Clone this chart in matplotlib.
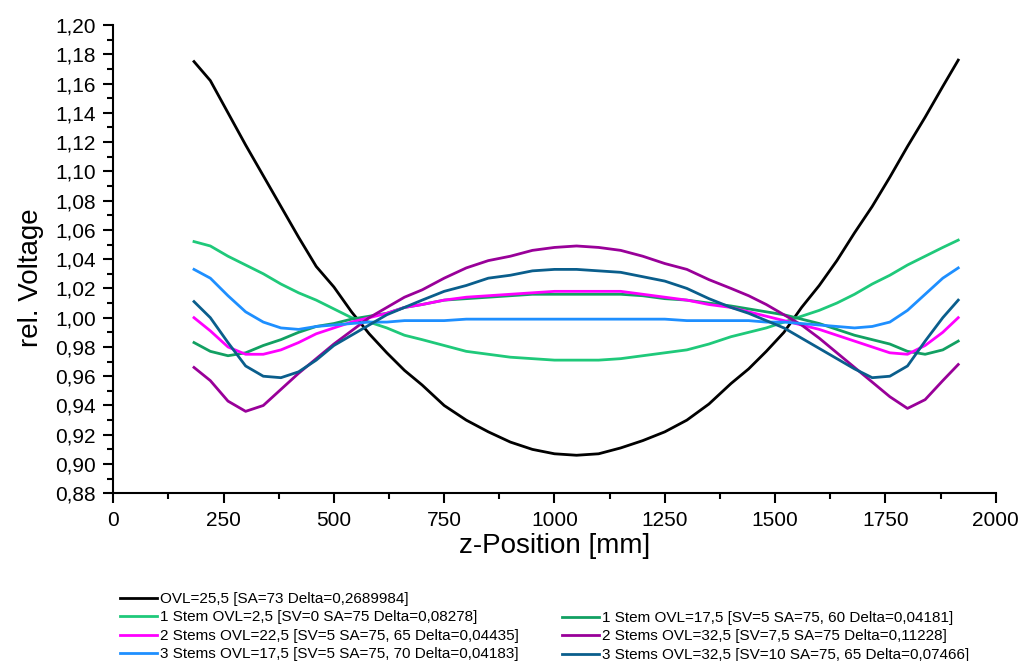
import matplotlib
matplotlib.use('Agg')
import matplotlib.pyplot as plt
from matplotlib.ticker import MultipleLocator, FuncFormatter

plt.rcParams['font.family'] = ['Liberation Sans', 'DejaVu Sans']

# -------- DATA --------------------------------------------------
z = [183, 220, 260, 300, 340, 380, 420, 460, 500, 540, 580, 620, 660, 700,
     750, 800, 850, 900, 950, 1000, 1050, 1100, 1150, 1200, 1250, 1300, 1350,
     1400, 1440, 1480, 1520, 1560, 1600, 1640, 1680, 1720, 1760, 1800, 1840,
     1880, 1915]

ovl_25 = [1.175, 1.162, 1.140, 1.118, 1.097, 1.076, 1.055, 1.035, 1.021, 1.004,
          0.989, 0.976, 0.964, 0.954, 0.940, 0.930, 0.922, 0.915, 0.910, 0.907,
          0.906, 0.907, 0.911, 0.916, 0.922, 0.930, 0.941, 0.955, 0.965, 0.977,
          0.990, 1.007, 1.022, 1.039, 1.058, 1.076, 1.096, 1.117, 1.137, 1.158,
          1.176]

stem1_2 = [1.052, 1.049, 1.042, 1.036, 1.030, 1.023, 1.017, 1.012, 1.006, 1.000,
           0.997, 0.993, 0.988, 0.985, 0.981, 0.977, 0.975, 0.973, 0.972, 0.971,
           0.971, 0.971, 0.972, 0.974, 0.976, 0.978, 0.982, 0.987, 0.990, 0.993,
           0.997, 1.001, 1.005, 1.010, 1.016, 1.023, 1.029, 1.036, 1.042, 1.048,
           1.053]

stem1_17 = [0.983, 0.977, 0.974, 0.976, 0.981, 0.985, 0.990, 0.994, 0.996, 0.999,
            1.001, 1.003, 1.007, 1.009, 1.012, 1.013, 1.014, 1.015, 1.016, 1.016,
            1.016, 1.016, 1.016, 1.015, 1.013, 1.012, 1.010, 1.008, 1.006, 1.004,
            1.002, 0.999, 0.996, 0.992, 0.988, 0.985, 0.982, 0.977, 0.975, 0.978,
            0.984]

stems2_22 = [1.000, 0.991, 0.980, 0.975, 0.975, 0.978, 0.983, 0.989, 0.993, 0.997,
             1.000, 1.003, 1.007, 1.009, 1.012, 1.014, 1.015, 1.016, 1.017, 1.018,
             1.018, 1.018, 1.018, 1.016, 1.014, 1.012, 1.009, 1.007, 1.004, 1.001,
             0.998, 0.995, 0.992, 0.988, 0.984, 0.980, 0.976, 0.975, 0.981, 0.990,
             1.000]

stems2_32 = [0.966, 0.957, 0.943, 0.936, 0.940, 0.951, 0.962, 0.972, 0.982, 0.991,
             1.000, 1.007, 1.014, 1.019, 1.027, 1.034, 1.039, 1.042, 1.046, 1.048,
             1.049, 1.048, 1.046, 1.042, 1.037, 1.033, 1.026, 1.020, 1.015, 1.009,
             1.002, 0.995, 0.986, 0.976, 0.966, 0.956, 0.946, 0.938, 0.944, 0.957,
             0.968]

stems3_17 = [1.033, 1.027, 1.015, 1.004, 0.997, 0.993, 0.992, 0.994, 0.995, 0.996,
             0.997, 0.997, 0.998, 0.998, 0.998, 0.999, 0.999, 0.999, 0.999, 0.999,
             0.999, 0.999, 0.999, 0.999, 0.999, 0.998, 0.998, 0.998, 0.998, 0.997,
             0.997, 0.996, 0.995, 0.994, 0.993, 0.994, 0.997, 1.005, 1.016, 1.027,
             1.034]

stems3_32 = [1.011, 1.000, 0.983, 0.967, 0.960, 0.959, 0.963, 0.971, 0.981, 0.988,
             0.995, 1.002, 1.007, 1.012, 1.018, 1.022, 1.027, 1.029, 1.032, 1.033,
             1.033, 1.032, 1.031, 1.028, 1.025, 1.020, 1.013, 1.007, 1.003, 0.998,
             0.993, 0.986, 0.979, 0.972, 0.965, 0.959, 0.960, 0.967, 0.984, 1.000,
             1.012]

labels = ['OVL=25,5 [SA=73 Delta=0,2689984]',
          '1 Stem OVL=2,5 [SV=0 SA=75 Delta=0,08278]',
          '1 Stem OVL=17,5 [SV=5 SA=75, 60 Delta=0,04181]',
          '2 Stems OVL=22,5 [SV=5 SA=75, 65 Delta=0,04435]',
          '2 Stems OVL=32,5 [SV=7,5 SA=75 Delta=0,11228]',
          '3 Stems OVL=17,5 [SV=5 SA=75, 70 Delta=0,04183]',
          '3 Stems OVL=32,5 [SV=10 SA=75, 65 Delta=0,07466]']

colors = ['#000000', '#1fc97a', '#12a062', '#ff00ff', '#990099', '#1e8fff', '#0a5e8c']

series = [ovl_25, stem1_2, stem1_17, stems2_22, stems2_32, stems3_17, stems3_32]

# -------- PLOTTING -------------------------------
fig = plt.figure(figsize=(10.24, 6.61), dpi=100)
ax = fig.add_axes([0.1106, 0.2537, 0.8618, 0.7085])

lines = []
for vals, col, lab in zip(series, colors, labels):
    ln, = ax.plot(z, vals, color=col, linewidth=2.0, label=lab,
                  solid_joinstyle='round')
    lines.append(ln)

ax.set_xlim(0, 2000)
ax.set_ylim(0.88, 1.20)
ax.xaxis.set_major_locator(MultipleLocator(250))
ax.xaxis.set_minor_locator(MultipleLocator(125))
ax.yaxis.set_major_locator(MultipleLocator(0.02))
ax.yaxis.set_minor_locator(MultipleLocator(0.01))
ax.yaxis.set_major_formatter(FuncFormatter(lambda v, p: f'{v:.2f}'.replace('.', ',')))
ax.xaxis.set_major_formatter(FuncFormatter(lambda v, p: f'{v:.0f}'))

for s in ['top', 'right']:
    ax.spines[s].set_visible(False)
for s in ['left', 'bottom']:
    ax.spines[s].set_linewidth(1.5)

ax.tick_params(which='major', direction='out', length=7.5, width=1.5, labelsize=15, pad=5)
ax.tick_params(which='minor', direction='out', length=4.5, width=1.5)

ax.set_xlabel('z-Position [mm]', fontsize=20)
ax.set_ylabel('rel. Voltage', fontsize=20)
ax.xaxis.set_label_coords(0.5, -0.085)
ax.yaxis.set_label_coords(-0.078, 0.46)

# legend: first column with 4 rows, second column starts at row 2
leg_kw = dict(frameon=False, fontsize=11, handlelength=2.45, handletextpad=0.15,
              labelspacing=0.29, borderpad=0, borderaxespad=0, loc='upper left')
fig.legend([lines[0], lines[1], lines[3], lines[5]],
           [labels[0], labels[1], labels[3], labels[5]],
           bbox_to_anchor=(120 / 1024, 1 - 592 / 661), **leg_kw)
fig.legend([lines[2], lines[4], lines[6]],
           [labels[2], labels[4], labels[6]],
           bbox_to_anchor=(562 / 1024, 1 - 611 / 661), **leg_kw)

fig.savefig('out.png', dpi=100)
